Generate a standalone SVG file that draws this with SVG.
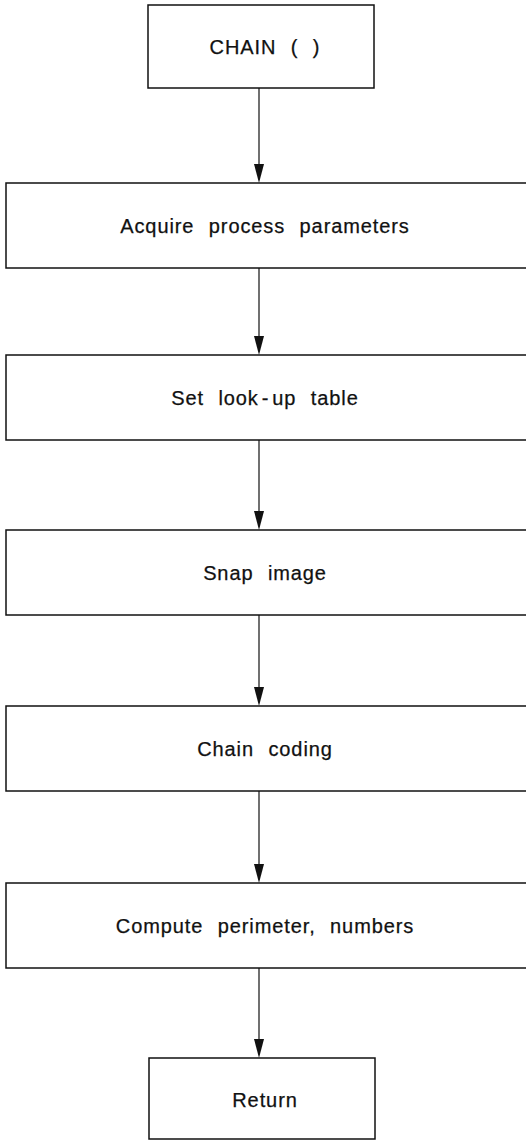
<svg xmlns="http://www.w3.org/2000/svg" width="526" height="1141" viewBox="0 0 526 1141">
<style>
.box{fill:#fff;stroke:#111;stroke-width:1.5}
.lbl{font-family:"Liberation Sans",Arial,sans-serif;font-size:20px;fill:#111;stroke:#111;stroke-width:0.25;text-anchor:middle;letter-spacing:0.9px;word-spacing:8px}
.conn{stroke:#111;stroke-width:1.2;fill:none}
.head{fill:#111}
</style>
<rect width="526" height="1141" fill="#fff"/>
<g id="connectors">
<line class="conn" x1="259" y1="88" x2="259" y2="170"/>
<line class="conn" x1="259" y1="268" x2="259" y2="342"/>
<line class="conn" x1="259" y1="440" x2="259" y2="517"/>
<line class="conn" x1="259" y1="615" x2="259" y2="693"/>
<line class="conn" x1="259" y1="791" x2="259" y2="870"/>
<line class="conn" x1="259" y1="968" x2="259" y2="1045"/>
<path class="head" d="M254,164 L264,164 L259,183 Z"/>
<path class="head" d="M254,336 L264,336 L259,355 Z"/>
<path class="head" d="M254,511 L264,511 L259,530 Z"/>
<path class="head" d="M254,687 L264,687 L259,706 Z"/>
<path class="head" d="M254,864 L264,864 L259,883 Z"/>
<path class="head" d="M254,1039 L264,1039 L259,1058 Z"/>
</g>
<g id="n1"><rect class="box" x="148" y="5" width="226" height="83"/><text class="lbl" x="265" y="54">CHAIN ( )</text></g>
<g id="n2"><rect class="box" x="6" y="183" width="530" height="85"/><text class="lbl" x="265" y="233">Acquire process parameters</text></g>
<g id="n3"><rect class="box" x="6" y="355" width="530" height="85"/><text class="lbl" x="265" y="405">Set look<tspan dx="3">-</tspan><tspan dx="3">up table</tspan></text></g>
<g id="n4"><rect class="box" x="6" y="530" width="530" height="85"/><text class="lbl" x="265" y="580">Snap image</text></g>
<g id="n5"><rect class="box" x="6" y="706" width="530" height="85"/><text class="lbl" x="265" y="756">Chain coding</text></g>
<g id="n6"><rect class="box" x="6" y="883" width="530" height="85"/><text class="lbl" x="265" y="933">Compute perimeter, numbers</text></g>
<g id="n7"><rect class="box" x="149" y="1058" width="226" height="81"/><text class="lbl" x="265" y="1107">Return</text></g>
</svg>
